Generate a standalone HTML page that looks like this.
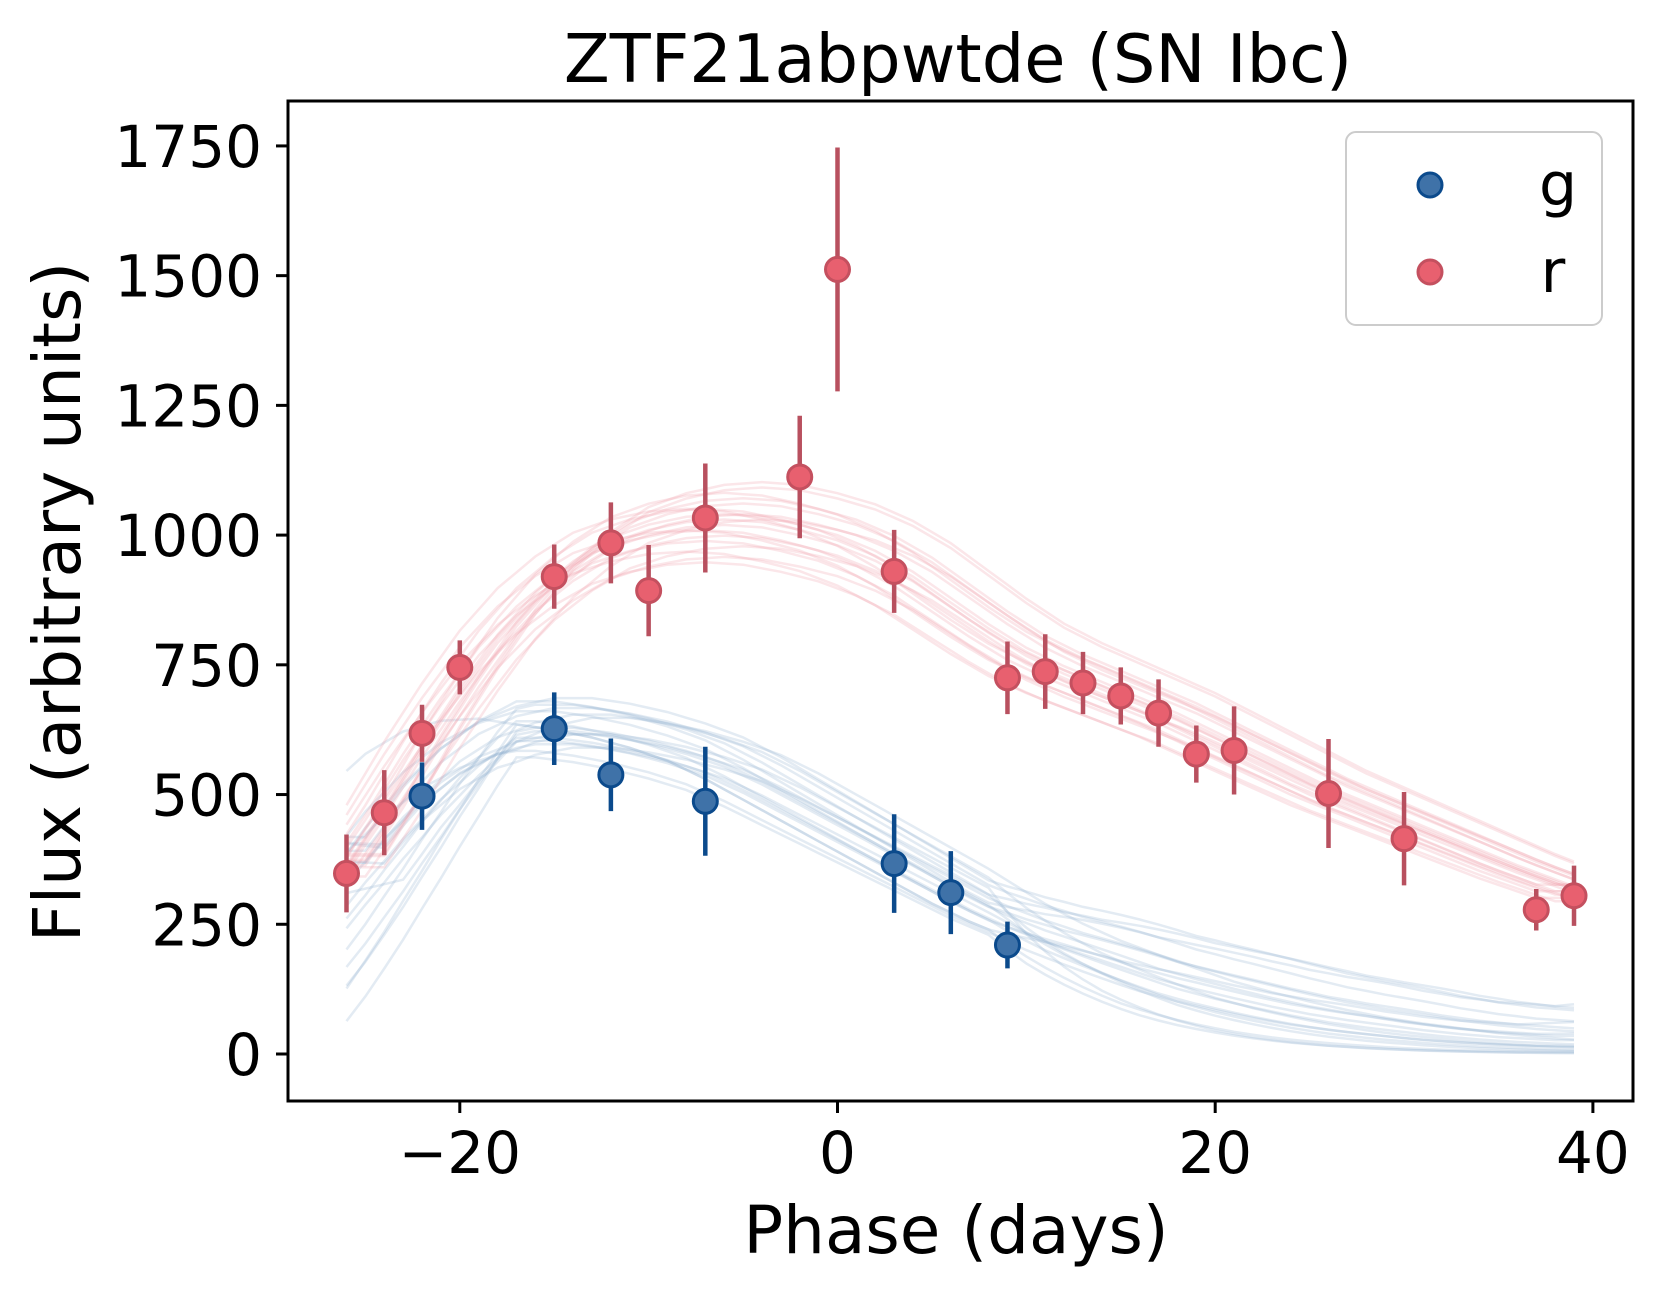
<!DOCTYPE html>
<html><head><meta charset="utf-8"><style>
html,body{margin:0;padding:0;background:#fff;}
svg{display:block;font-family:"DejaVu Sans","Liberation Sans",sans-serif;}
</style></head><body>
<svg id="chart" width="1660" height="1296" viewBox="0 0 1660 1296">
<text x="958" y="82" font-size="67" text-anchor="middle">ZTF21abpwtde (SN Ibc)</text>
<g id="curves"></g>
<g id="points"></g>
<rect x="288" y="101" width="1345" height="1000" fill="none" stroke="#000" stroke-width="3"/>
<g id="axes"></g>
<text x="956" y="1253" font-size="66" text-anchor="middle">Phase (days)</text>
<text transform="translate(80,602) rotate(-90)" font-size="66" text-anchor="middle">Flux (arbitrary units)</text>
<g>
<rect x="1346" y="132" width="256" height="193" rx="10" fill="#fff" fill-opacity="0.8" stroke="#ccc" stroke-width="2"/>
<circle cx="1430" cy="185" r="12" fill="#3f72a8" stroke="#0b4a8c" stroke-width="3"/>
<text x="1558" y="205" font-size="60" text-anchor="middle">g</text>
<circle cx="1430" cy="272" r="12" fill="#e8606f" stroke="#c4505f" stroke-width="3"/>
<text x="1553" y="292" font-size="60" text-anchor="middle">r</text>
</g>
</svg>
<script>
const rPhase=[-26,-24,-22,-20,-15,-12,-10,-7,-2,0,3,9,11,13,15,17,19,21,26,30,37,39];
const rFlux=[348,465,618,745,920,985,893,1033,1112,1512,930,725,737,715,690,657,578,585,502,415,278,305];
const rErr=[75,82,55,52,62,78,88,105,118,235,80,70,72,60,55,65,55,85,105,90,40,58];
const gPhase=[-22,-15,-12,-7,3,6,9];
const gFlux=[497,627,538,487,367,311,210];
const gErr=[65,70,70,105,95,80,45];
const modelPhase=[-26,-24,-22,-20,-18,-16,-14,-12,-10,-8,-6,-4,-2,0,2,4,6,8,10,12,14,16,18,20,22,24,26,28,30,32,34,36,39];
const rModel=[360,470,590,700,800,880,940,985,1010,1025,1030,1025,1010,990,960,920,870,820,775,740,710,680,650,615,580,545,510,480,450,420,390,360,320];
const gModel=[380,470,540,590,620,635,635,625,610,590,565,530,490,450,410,370,330,290,255,225,200,175,150,130,112,95,80,68,58,48,40,34,28];
const rScales=[0.92,0.95,0.97,0.98,1.0,1.01,1.02,1.03,1.05,1.07,0.94,0.99,1.04,0.96,1.0,1.02,1.06,0.93,0.98,1.01];
const rShifts=[1,-1,0,2,-2,0,1,-1,0,-2,2,0,-1,1,0,2,-2,0,1,-1];
const gScales=[0.9,0.93,0.95,0.97,0.99,1.0,1.02,1.04,1.06,1.08,0.92,0.98,1.03,0.96,1.0,1.05,0.94,1.01,0.97,1.07];
const gShifts=[2,-2,1,-1,0,3,-3,1,0,-1,2,0,-2,1,3,-1,0,2,-2,1];
const gTail=[0.1,3.0,0.5,1.5,0.3,2.2,0.8,1.2,0.2,2.6,0.6,1.8,0.4,1.0,0.15,2.0,0.7,1.4,0.05,3.2];
const gEarly=[0.15,1.05,0.6,1.0,0.35,1.08,0.8,0.95,0.5,1.02,0.9,0.45,1.04,0.7,0.25,0.98,0.92,0.55,1.1,0.85];
const xTicks=[-20,0,20,40];
const yTicks=[0,250,500,750,1000,1250,1500,1750];

const NS="http://www.w3.org/2000/svg";
const X=v=>837.5+v*18.885;
const Y=v=>1054-v*0.5189;
function interp(arr,p){
  if(p<=modelPhase[0])return arr[0];
  for(let i=1;i<modelPhase.length;i++){
    if(p<=modelPhase[i]){const t=(p-modelPhase[i-1])/(modelPhase[i]-modelPhase[i-1]);return arr[i-1]+t*(arr[i]-arr[i-1]);}
  }
  return arr[arr.length-1];
}
const curves=document.getElementById('curves');
function drawSamples(model,scales,shifts,early,tail,color,name){
  for(let k=0;k<scales.length;k++){
    let d='';
    for(let p=-26;p<=39;p+=1){
      let v=interp(model,p+shifts[k])*scales[k];
      if(tail&&p>8){v*=Math.pow(tail[k],(p-8)/31);}
      if(early&&p<-17){const f=(-17-p)/9;v*=1+(early[k]-1)*f;}
      v=Math.max(0,v);
      d+=(p===-26?'M':'L')+X(p).toFixed(1)+','+Y(v).toFixed(1);
    }
    const el=document.createElementNS(NS,'path');
    el.setAttribute('d',d);el.setAttribute('fill','none');el.setAttribute('stroke',color);
    el.setAttribute('stroke-width','2.5');el.setAttribute('stroke-opacity','0.25');
    
    
    curves.appendChild(el);
  }
}
drawSamples(gModel,gScales,gShifts,gEarly,gTail,'#8fb0d0','g-model-curve');
drawSamples(rModel,rScales,rShifts,null,null,'#f09aa6','r-model-curve');

const pts=document.getElementById('points');
function drawPoints(ph,fl,er,fill,edge,bar,name){
  for(let i=0;i<ph.length;i++){
    const l=document.createElementNS(NS,'line');
    l.setAttribute('x1',X(ph[i]));l.setAttribute('x2',X(ph[i]));
    l.setAttribute('y1',Y(fl[i]-er[i]));l.setAttribute('y2',Y(fl[i]+er[i]));
    l.setAttribute('stroke',bar);l.setAttribute('stroke-width','4.5');
    
    
    pts.appendChild(l);
    const c=document.createElementNS(NS,'circle');
    c.setAttribute('cx',X(ph[i]));c.setAttribute('cy',Y(fl[i]));c.setAttribute('r','12');
    c.setAttribute('fill',fill);c.setAttribute('stroke',edge);c.setAttribute('stroke-width','3');
    
    
    pts.appendChild(c);
  }
}
drawPoints(rPhase,rFlux,rErr,'#e8606f','#c4505f','#b8505f','r-band');
drawPoints(gPhase,gFlux,gErr,'#3f72a8','#0b4a8c','#0b4a8c','g-band');

const axes=document.getElementById('axes');
xTicks.forEach(t=>{
  const l=document.createElementNS(NS,'line');
  l.setAttribute('x1',X(t));l.setAttribute('x2',X(t));l.setAttribute('y1',1101);l.setAttribute('y2',1113);
  l.setAttribute('stroke','#000');l.setAttribute('stroke-width','3');
  
  
  axes.appendChild(l);
  const tx=document.createElementNS(NS,'text');
  tx.setAttribute('x',X(t));tx.setAttribute('y',1173);tx.setAttribute('font-size','58');tx.setAttribute('text-anchor','middle');
  tx.textContent=t<0?'\u2212'+Math.abs(t):String(t);
  
  
  axes.appendChild(tx);
});
yTicks.forEach(t=>{
  const l=document.createElementNS(NS,'line');
  l.setAttribute('x1',276);l.setAttribute('x2',288);l.setAttribute('y1',Y(t));l.setAttribute('y2',Y(t));
  l.setAttribute('stroke','#000');l.setAttribute('stroke-width','3');
  
  
  axes.appendChild(l);
  const tx=document.createElementNS(NS,'text');
  tx.setAttribute('x',262);tx.setAttribute('y',Y(t)+21);tx.setAttribute('font-size','58');tx.setAttribute('text-anchor','end');
  tx.textContent=String(t);
  
  
  axes.appendChild(tx);
});
</script>
</body></html>
